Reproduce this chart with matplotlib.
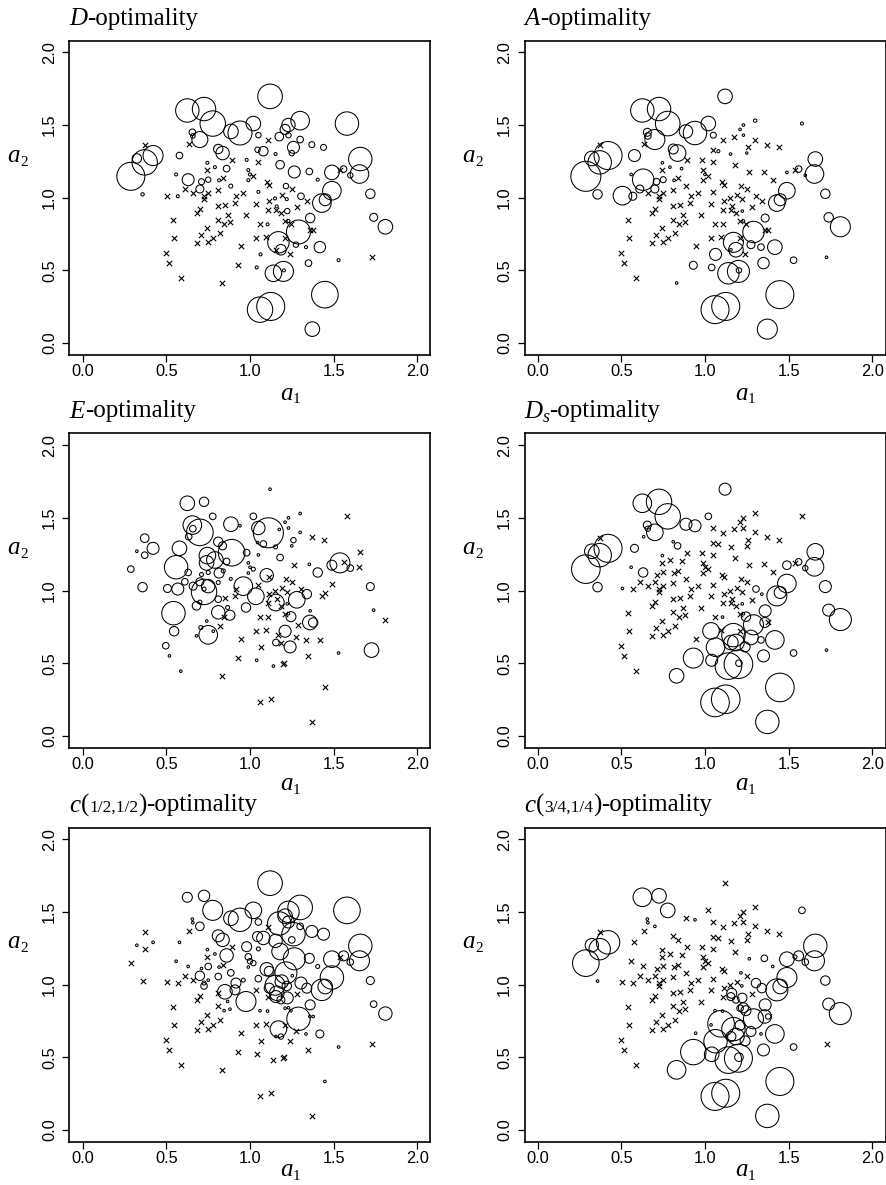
import matplotlib
matplotlib.use("Agg")
import matplotlib.pyplot as plt

W, H = 887, 1185

# design space points (a1, a2), shared by every panel
a1 = [1.12, 0.625, 0.725, 0.777, 0.94, 0.886, 1.02, 1.30, 1.23, 1.21,
      1.58, 0.70, 0.655, 0.658, 1.05, 1.175, 1.23, 1.30, 1.37, 1.44,
      1.26, 0.81, 0.836, 1.045, 1.08, 0.578, 0.323, 0.37, 0.42, 0.287,
      0.357, 1.66, 1.655, 1.49, 1.49, 1.43, 1.45, 1.72, 1.74, 1.81,
      1.25, 1.265, 1.18, 1.355, 1.60, 1.56, 0.63, 0.71, 0.75, 0.70,
      0.86, 0.885, 1.215, 1.305, 1.36, 1.29, 1.17, 1.185, 1.14, 1.20,
      1.418, 1.35, 1.448, 1.06, 1.124, 1.373, 1.223, 1.275, 0.558, 0.568,
      0.745, 0.79, 0.815, 0.98, 0.99, 1.0, 1.153, 0.99, 1.05, 1.15,
      1.16, 1.22, 1.23, 1.105, 1.063, 1.04, 1.203, 1.335, 1.53, 1.405,
      0.37, 0.633, 1.11, 1.05, 0.89, 0.74, 0.61, 0.66, 0.506, 0.725,
      0.75, 0.81, 0.84, 0.916, 0.96, 1.02, 1.10, 1.115, 1.19, 1.253,
      1.28, 1.34, 1.538, 0.68, 0.70, 0.725, 0.81, 0.85, 0.866, 0.91,
      0.976, 1.035, 1.11, 1.115, 1.155, 1.185, 1.21, 1.245, 1.358, 0.542,
      0.546, 0.496, 0.518, 0.586, 0.68, 0.706, 0.741, 0.75, 0.78, 0.81,
      0.82, 0.845, 0.88, 0.944, 0.93, 0.83, 1.036, 1.06, 1.096, 1.21,
      1.24, 1.155, 1.727, 1.378]
a2 = [1.697, 1.60, 1.61, 1.51, 1.445, 1.456, 1.51, 1.53, 1.50, 1.47,
      1.51, 1.40, 1.45, 1.425, 1.43, 1.42, 1.43, 1.40, 1.365, 1.346,
      1.346, 1.335, 1.307, 1.33, 1.32, 1.29, 1.27, 1.243, 1.29, 1.147,
      1.023, 1.266, 1.163, 1.174, 1.048, 0.963, 0.986, 1.027, 0.865, 0.80,
      1.307, 1.177, 1.227, 1.18, 1.154, 1.197, 1.124, 1.11, 1.124, 1.06,
      1.20, 1.08, 1.08, 1.01, 0.86, 0.764, 0.693, 0.642, 0.48, 0.493,
      0.66, 0.55, 0.333, 0.23, 0.252, 0.096, 0.908, 0.677, 1.16, 1.01,
      1.24, 1.21, 1.12, 1.26, 1.19, 1.16, 1.30, 1.12, 1.04, 0.995,
      0.94, 0.99, 0.84, 0.817, 0.61, 0.52, 0.50, 0.66, 0.57, 1.124,
      1.36, 1.37, 1.397, 1.245, 1.26, 1.19, 1.06, 1.03, 1.014, 1.01,
      1.03, 1.055, 1.135, 1.01, 1.03, 1.147, 1.105, 1.09, 1.02, 1.06,
      0.936, 0.975, 1.19, 0.895, 0.92, 0.99, 0.94, 0.95, 0.883, 0.963,
      0.883, 0.96, 0.917, 0.975, 0.917, 0.894, 0.837, 0.82, 0.78, 0.844,
      0.72, 0.62, 0.55, 0.445, 0.688, 0.745, 0.79, 0.695, 0.72, 0.85,
      0.757, 0.82, 0.83, 0.665, 0.535, 0.413, 0.722, 0.82, 0.73, 0.72,
      0.612, 0.642, 0.59, 0.78]

# circle radius (pixels) per point number; points not listed are crosses
r_D = {1: 12.3, 2: 11.7, 3: 11.7, 4: 12.7, 5: 12, 6: 7.3, 7: 7.3, 8: 9.3, 9: 6.7, 10: 5,
       11: 11.7, 12: 8, 13: 3.3, 14: 2.3, 15: 2.7, 16: 4.3, 17: 2.7, 18: 3.3, 19: 3, 20: 3,
       21: 6, 22: 4.7, 23: 6.7, 24: 2.7, 25: 4.7, 26: 3.3, 27: 4.7, 28: 12.7, 29: 10, 30: 14,
       31: 1.7, 32: 11.7, 33: 9.3, 34: 7.3, 35: 9.3, 36: 9.3, 37: 6, 38: 4.7, 39: 4, 40: 7.3,
       41: 2.7, 42: 6, 43: 4.3, 44: 3.3, 45: 2.7, 46: 3.3, 47: 6, 48: 3, 49: 2.7, 50: 4,
       51: 3.3, 52: 2, 53: 2.7, 54: 3.3, 55: 4.7, 56: 12, 57: 10.7, 58: 5.3, 59: 8.3, 60: 10,
       61: 5.7, 62: 3.3, 63: 13.3, 64: 12.7, 65: 14, 66: 7.3, 67: 2.7, 68: 2.7,
       69: 1.5, 70: 1.5, 71: 1.5, 72: 1.5, 73: 1.5, 74: 1.5, 75: 1.5, 76: 1.5, 77: 1.5,
       78: 1.5, 79: 1.5, 80: 1.5, 81: 1.5, 82: 1.5, 83: 1.5, 84: 1.5, 85: 1.5, 86: 1.5,
       87: 1.5, 88: 1.5, 89: 1.5, 90: 1.5}
r_A = {1: 7.3, 2: 11.7, 3: 11.7, 4: 12.3, 5: 11.7, 6: 6.7, 7: 7.3, 8: 1.7, 9: 1.3, 10: 1.3,
       11: 1.5, 12: 10, 13: 4, 14: 3.3, 15: 3, 17: 1.2, 22: 5, 23: 8.3, 25: 1.5, 26: 6,
       27: 7.3, 28: 11.7, 29: 14, 30: 15, 31: 4.7, 32: 7.3, 33: 9.3, 34: 1.3, 35: 8.3, 36: 8.3,
       37: 6, 38: 4.7, 39: 4.7, 40: 10, 41: 1.2, 45: 1.3, 46: 3.3, 47: 10.7, 48: 3.3, 49: 3,
       50: 4, 51: 1.3, 55: 4, 56: 10.7, 57: 10, 58: 7.3, 59: 10.7, 60: 11, 61: 7.3, 62: 5.7,
       63: 14, 64: 14, 65: 14, 66: 10, 67: 1.3, 68: 4, 69: 1.3, 70: 4, 71: 1.3, 72: 1.3,
       73: 1.3, 76: 1.3, 77: 1.3, 83: 1.3, 85: 6, 86: 3.3, 87: 2.7, 88: 3.3, 89: 3.3, 97: 4,
       99: 9.3, 145: 4, 146: 1.3, 152: 1.3, 153: 1.3}
r_E = {1: 1.3, 2: 7.3, 3: 4.7, 4: 3.3, 5: 1.3, 6: 7.3, 7: 3.3, 8: 1.3, 9: 1.3, 10: 1.3,
       12: 13.3, 13: 9.3, 14: 3.3, 15: 6.7, 16: 1.3, 17: 1.3, 18: 1.3, 21: 2.7, 22: 4.7, 23: 4,
       24: 1.3, 25: 3.3, 26: 7.3, 27: 1.3, 28: 3.3, 29: 6, 30: 3.3, 31: 4.7, 34: 5, 38: 4,
       39: 1.3, 41: 1.3, 43: 3.3, 44: 1.3, 45: 3.3, 47: 3.3, 48: 2, 49: 2, 50: 4, 51: 3.3,
       52: 1.5, 55: 1.3, 59: 1.3, 67: 1.3, 69: 11.7, 70: 6, 71: 8.3, 72: 8.3, 73: 5, 74: 3.3,
       75: 1.3, 76: 1.3, 77: 2, 78: 1.3, 83: 1.3, 86: 1.3, 89: 1.3, 90: 4.7, 91: 4.3, 92: 3.3,
       93: 15, 94: 1.3, 95: 13.3, 96: 7.3, 97: 3.3, 98: 4, 99: 4, 100: 2, 101: 6.7, 102: 2,
       103: 2, 105: 9.3, 106: 2, 107: 6.7, 111: 8.3, 112: 4.7, 113: 10, 114: 4.3, 115: 2,
       116: 12.7, 117: 3.3, 119: 2, 121: 4.7, 122: 8.3, 125: 8.3, 128: 5, 129: 7.3, 130: 11.7,
       131: 4.7, 132: 3.3, 133: 1.3, 134: 1.3, 135: 1.3, 136: 2, 137: 1.3, 138: 9.3, 139: 1.3,
       140: 6.7, 143: 5, 150: 6, 151: 6, 152: 3.3, 153: 7.3, 154: 4.7}
r_Ds = {1: 6, 2: 9.3, 3: 12.7, 4: 12.7, 5: 6, 6: 6, 7: 3.3, 12: 8.3, 13: 4, 14: 2.7,
        22: 1.3, 23: 3.3, 26: 4, 27: 7.3, 28: 11.7, 29: 14, 30: 14.3, 31: 4.7, 32: 8.3, 33: 9.3,
        34: 4.3, 35: 9.3, 36: 10, 37: 6, 38: 6, 39: 6, 40: 11, 45: 2.7, 46: 3.3, 47: 4.7,
        54: 3.3, 55: 6, 56: 10, 57: 11.7, 58: 8.3, 59: 13.3, 60: 14.3, 61: 9.3, 62: 6,
        63: 14.3, 64: 14.3, 65: 14.3, 66: 11.7, 67: 1.3, 68: 7.3, 69: 1.3, 71: 1.3, 83: 1.3,
        84: 1.3, 85: 9.3, 86: 6, 87: 3.3, 88: 3.3, 89: 3.3, 92: 1.3, 99: 1.3, 112: 1.3,
        128: 4.7, 129: 5, 145: 10, 146: 7.3, 147: 8.3, 151: 5, 152: 7.3, 153: 1.3}
r_c1 = {1: 12.3, 2: 5, 3: 5.7, 4: 10, 5: 11.7, 6: 7.3, 7: 8.3, 8: 12.3, 9: 10.7, 10: 7.3,
        11: 13.3, 12: 4.3, 13: 1.3, 14: 1.3, 15: 3.3, 16: 11.7, 17: 6, 18: 3.3, 19: 6, 20: 6,
        21: 11.7, 22: 6, 23: 6.7, 24: 5, 25: 6.7, 26: 1.3, 27: 1.3, 29: 1.3, 32: 11.7, 33: 10,
        34: 8.3, 35: 11.7, 36: 10.7, 37: 7.3, 38: 4, 39: 3.3, 40: 6.7, 41: 3.3, 42: 11, 43: 8.3,
        44: 5, 45: 3.3, 46: 5, 47: 1.3, 48: 1.3, 49: 3.3, 50: 4.7, 51: 6.7, 52: 3.3, 53: 11,
        54: 6, 55: 5, 56: 11.7, 57: 8.3, 58: 2.7, 61: 4, 63: 1.3, 67: 6, 69: 1.3, 71: 1.3,
        72: 1.3, 73: 1.3, 74: 5, 75: 3.3, 76: 2.7, 77: 6.7, 78: 1.3, 79: 3.3, 80: 10, 81: 7.3,
        82: 4.7, 83: 1.3, 84: 1.3, 88: 1.3, 89: 1.3, 90: 2, 94: 2, 100: 2, 101: 1.3, 102: 3.3,
        104: 5, 105: 2, 106: 2.7, 107: 6.7, 108: 5, 109: 6.7, 110: 1.3, 112: 5, 116: 3.3,
        118: 7.3, 119: 1.3, 120: 5, 121: 10, 124: 5, 125: 6, 126: 4, 127: 1.3, 128: 1.3,
        129: 1.3, 142: 1.3, 143: 1.3, 148: 1.3, 152: 1.3, 154: 1.3}
r_c2 = {2: 9.3, 3: 7.3, 4: 7.3, 5: 1.3, 11: 3.3, 12: 1.3, 13: 1.3, 14: 1.3, 27: 6.7, 28: 10.7,
        29: 11.7, 30: 13.3, 31: 1.3, 32: 11.7, 33: 10, 34: 7.3, 35: 10, 36: 11, 37: 7.3, 38: 4.7,
        39: 6, 40: 11, 42: 1.3, 44: 3.3, 45: 3.3, 46: 5, 53: 1.3, 54: 4.7, 55: 6, 56: 10,
        57: 11.7, 58: 8.3, 59: 13.3, 60: 14, 61: 9.3, 62: 6, 63: 14, 64: 14, 65: 14, 66: 11.7,
        67: 4.7, 68: 5, 81: 5, 82: 1.3, 83: 5, 84: 1.3, 85: 11.7, 86: 7.3, 87: 4.3, 88: 1.3,
        89: 3.3, 90: 1.3, 112: 4.7, 113: 2, 125: 4, 126: 3.3, 127: 3.3, 128: 5, 129: 6.7,
        144: 1.3, 145: 12.7, 146: 9.3, 147: 1.3, 148: 1.3, 149: 13.3, 150: 5, 151: 5, 152: 5,
        154: 2.7}

ticks = [0.0, 0.5, 1.0, 1.5, 2.0]
tick_labels = ["0.0", "0.5", "1.0", "1.5", "2.0"]

# title pieces: (text, size, style, baseline shift px)
titles = [
    [("D", 18, "italic", 0), ("-optimality", 18, "normal", 0)],
    [("A", 18, "italic", 0), ("-optimality", 18, "normal", 0)],
    [("E", 18, "italic", 0), ("-optimality", 18, "normal", 0)],
    [("D", 18, "italic", 0), ("s", 13, "italic", 5), ("-optimality", 18, "normal", 0)],
    [("c", 18, "italic", 0), ("(", 18, "normal", 0), ("1/2,1/2", 12.5, "normal", 0),
     (")", 18, "normal", 0), ("-optimality", 18, "normal", 0)],
    [("c", 18, "italic", 0), ("(", 18, "normal", 0), ("3/4,1/4", 12.5, "normal", 0),
     (")", 18, "normal", 0), ("-optimality", 18, "normal", 0)],
]
radii = [r_D, r_A, r_E, r_Ds, r_c1, r_c2]

fig = plt.figure(figsize=(W / 100, H / 100), dpi=100)
renderer = fig.canvas.get_renderer()


def put_text(x, y, parts):
    for s, size, style, dy in parts:
        t = fig.text(x / W, 1 - (y + dy) / H, s, fontsize=size, style=style,
                     family="Liberation Serif", ha="left", va="baseline")
        x += t.get_window_extent(renderer).width


col_left = [69.5, 524.5]
row_top = [40.7, 433.5, 827.5]
xlab_drop = [45, 43, 35]
bw, bh = 361, 314

for k in range(6):
    left = col_left[k % 2]
    top = row_top[k // 2]
    ax = fig.add_axes([left / W, 1 - (top + bh) / H, bw / W, bh / H])
    rr = radii[k]
    cx = [a1[i - 1] for i in rr]
    cy = [a2[i - 1] for i in rr]
    cs = [(2 * rr[i] * 0.72) ** 2 for i in rr]
    xx = [a1[i] for i in range(len(a1)) if (i + 1) not in rr]
    xy = [a2[i] for i in range(len(a2)) if (i + 1) not in rr]
    ax.scatter(cx, cy, s=cs, facecolors="none", edgecolors="black", linewidths=0.75)
    ax.scatter(xx, xy, s=15, marker="x", color="black", linewidths=0.8)
    ax.set_xlim(-0.08, 2.08)
    ax.set_ylim(-0.08, 2.08)
    ax.set_xticks(ticks)
    ax.set_yticks(ticks)
    ax.set_xticklabels(tick_labels, family="Liberation Sans", fontsize=11.8)
    ax.set_yticklabels(tick_labels, family="Liberation Sans", fontsize=11.8,
                       rotation=90, va="center")
    ax.tick_params(direction="out", length=5, width=0.9)
    ax.tick_params(axis="x", pad=1.5)
    ax.tick_params(axis="y", pad=4)
    for sp in ax.spines.values():
        sp.set_linewidth(1.2)

    put_text(left, top - 16, titles[k])
    put_text(left + 211, top + bh + xlab_drop[k // 2],
             [("a", 18, "italic", 0), ("1", 11, "normal", 3)])
    put_text(left - 62, top + 121, [("a", 18, "italic", 0), ("2", 11, "normal", 4)])

fig.savefig("out.png", dpi=100)
